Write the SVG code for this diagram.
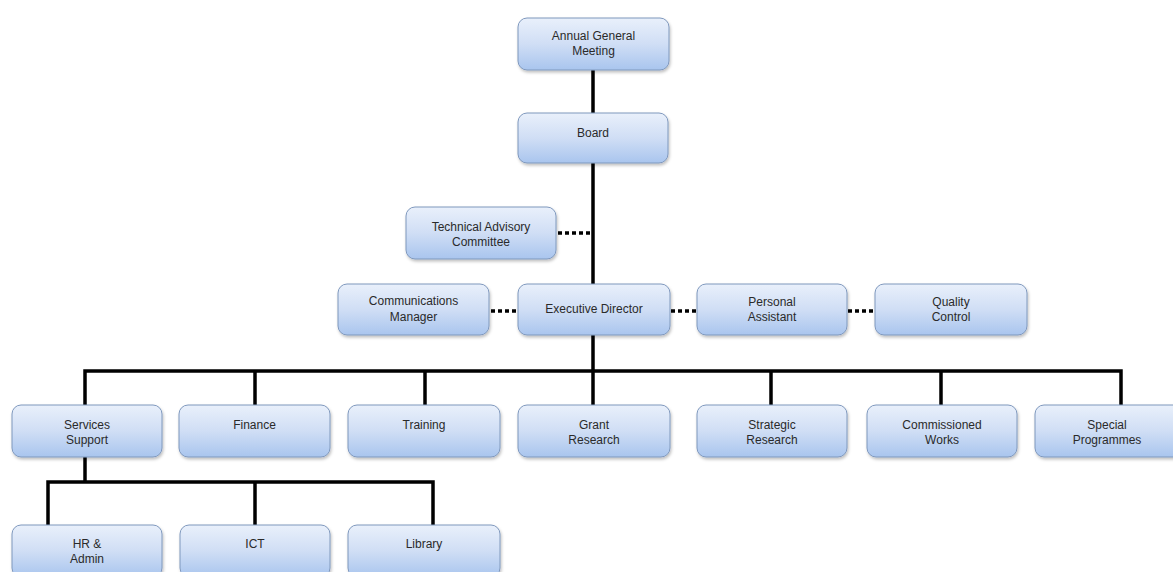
<svg xmlns="http://www.w3.org/2000/svg" width="1173" height="572" viewBox="0 0 1173 572">
<defs>
<linearGradient id="g" x1="0" y1="0" x2="0" y2="1">
<stop offset="0" stop-color="#e9f0fb"/>
<stop offset="0.5" stop-color="#d0def5"/>
<stop offset="1" stop-color="#a9c5ee"/>
</linearGradient>
<filter id="sh" x="-10%" y="-10%" width="125%" height="135%">
<feDropShadow dx="1" dy="2" stdDeviation="1.5" flood-color="#000" flood-opacity="0.25"/>
</filter>
</defs>
<style>
.box{fill:url(#g);stroke:#7f98bd;stroke-width:1;filter:url(#sh)}
.t{font-family:"Liberation Sans",Arial,sans-serif;font-size:12px;fill:#2a2a2a;text-anchor:middle}
.solid{stroke:#000;stroke-width:3.5;fill:none;stroke-linejoin:miter}
.dot{stroke:#000;stroke-width:3.5;fill:none;stroke-dasharray:4 3}
</style>
<rect width="1173" height="572" fill="#fff"/>
<g id="connectors">
<line class="solid" x1="593" y1="70" x2="593" y2="113"/>
<line class="solid" x1="593" y1="163" x2="593" y2="284"/>
<line class="solid" x1="593" y1="335" x2="593" y2="405"/>
<polyline class="solid" points="85,405 85,371 1121,371 1121,405"/>
<line class="solid" x1="255" y1="371" x2="255" y2="405"/>
<line class="solid" x1="425" y1="371" x2="425" y2="405"/>
<line class="solid" x1="771" y1="371" x2="771" y2="405"/>
<line class="solid" x1="941" y1="371" x2="941" y2="405"/>
<line class="solid" x1="85" y1="457" x2="85" y2="482"/>
<polyline class="solid" points="48,525 48,482 433,482 433,525"/>
<line class="solid" x1="255" y1="482" x2="255" y2="525"/>
<line class="dot" x1="558" y1="233" x2="592" y2="233"/>
<line class="dot" x1="491" y1="311" x2="518" y2="311"/>
<line class="dot" x1="671" y1="311" x2="697" y2="311"/>
<line class="dot" x1="848" y1="311" x2="875" y2="311"/>
</g>
<g id="agm"><rect class="box" x="518" y="18" width="151" height="52" rx="9"/><text class="t" x="593.5" y="40">Annual General</text><text class="t" x="593.5" y="55">Meeting</text></g>
<g id="board"><rect class="box" x="518" y="113" width="150" height="50" rx="9"/><text class="t" x="593" y="137">Board</text></g>
<g id="tac"><rect class="box" x="406" y="207" width="150" height="52" rx="9"/><text class="t" x="481" y="231">Technical Advisory</text><text class="t" x="481" y="246">Committee</text></g>
<g id="comm"><rect class="box" x="338" y="284" width="151" height="51" rx="9"/><text class="t" x="413.5" y="305">Communications</text><text class="t" x="413.5" y="321">Manager</text></g>
<g id="exec"><rect class="box" x="518" y="284" width="152" height="51" rx="9"/><text class="t" x="594" y="313">Executive Director</text></g>
<g id="pa"><rect class="box" x="697" y="284" width="150" height="51" rx="9"/><text class="t" x="772" y="306">Personal</text><text class="t" x="772" y="321">Assistant</text></g>
<g id="qc"><rect class="box" x="875" y="284" width="152" height="51" rx="9"/><text class="t" x="951" y="306">Quality</text><text class="t" x="951" y="321">Control</text></g>
<g id="ss"><rect class="box" x="12" y="405" width="150" height="52" rx="9"/><text class="t" x="87" y="429">Services</text><text class="t" x="87" y="444">Support</text></g>
<g id="fin"><rect class="box" x="179" y="405" width="151" height="52" rx="9"/><text class="t" x="254.5" y="429">Finance</text></g>
<g id="train"><rect class="box" x="348" y="405" width="152" height="52" rx="9"/><text class="t" x="424" y="429">Training</text></g>
<g id="grant"><rect class="box" x="518" y="405" width="152" height="52" rx="9"/><text class="t" x="594" y="429">Grant</text><text class="t" x="594" y="444">Research</text></g>
<g id="strat"><rect class="box" x="697" y="405" width="150" height="52" rx="9"/><text class="t" x="772" y="429">Strategic</text><text class="t" x="772" y="444">Research</text></g>
<g id="comw"><rect class="box" x="867" y="405" width="150" height="52" rx="9"/><text class="t" x="942" y="429">Commissioned</text><text class="t" x="942" y="444">Works</text></g>
<g id="spec"><rect class="box" x="1035" y="405" width="150" height="52" rx="9"/><text class="t" x="1107" y="429">Special</text><text class="t" x="1107" y="444">Programmes</text></g>
<g id="hr"><rect class="box" x="12" y="525" width="150" height="52" rx="9"/><text class="t" x="87" y="548">HR &amp;</text><text class="t" x="87" y="563">Admin</text></g>
<g id="ict"><rect class="box" x="180" y="525" width="150" height="52" rx="9"/><text class="t" x="255" y="548">ICT</text></g>
<g id="lib"><rect class="box" x="348" y="525" width="152" height="52" rx="9"/><text class="t" x="424" y="548">Library</text></g>
</svg>
